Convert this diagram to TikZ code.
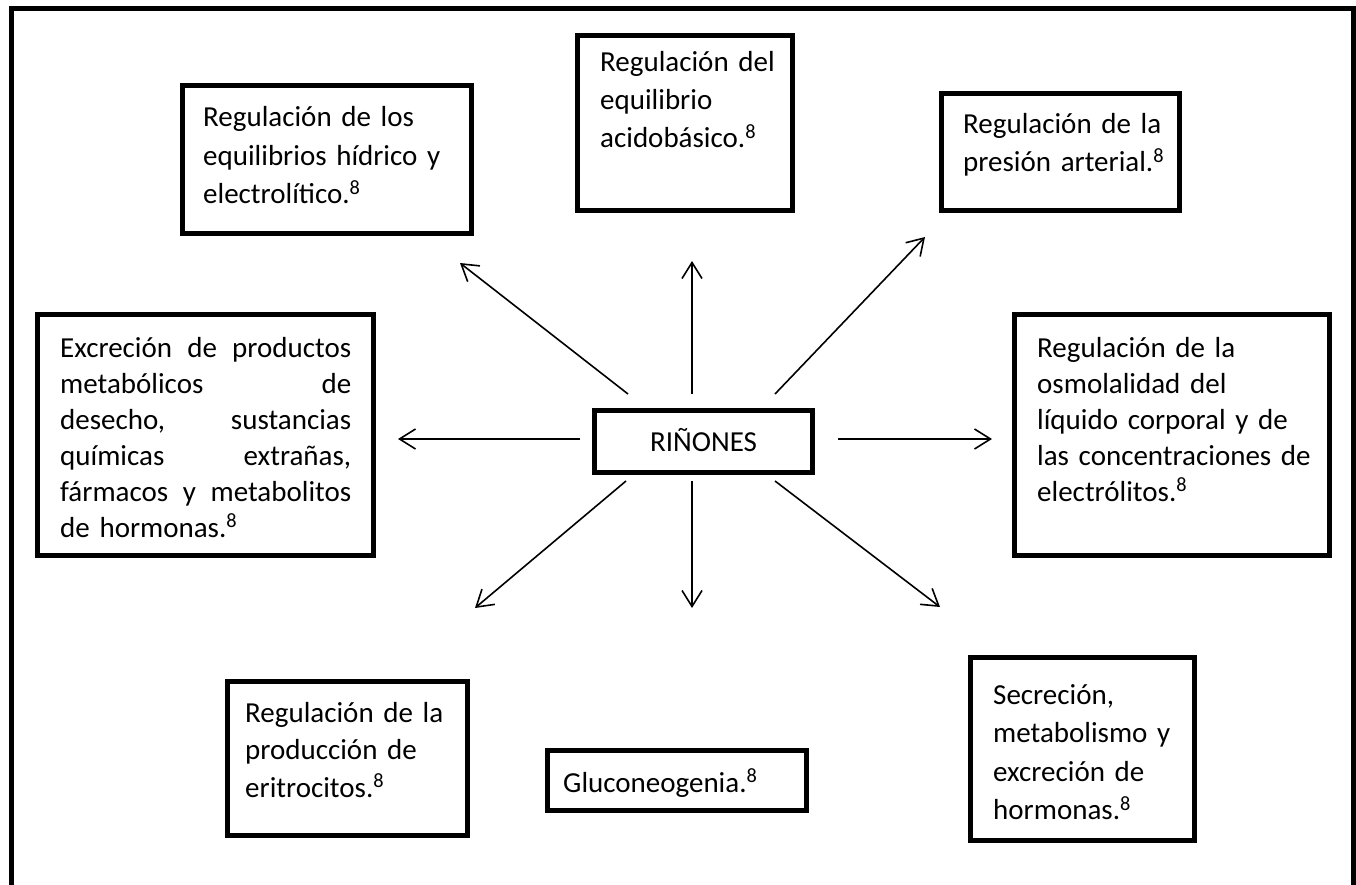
\documentclass[tikz,border=0pt]{standalone}
\usepackage{fontspec}
\setmainfont{Carlito}
\usetikzlibrary{arrows.meta}
\newcommand\bxfont[2]{\fontsize{#1}{#2}\selectfont}
\begin{document}
\begin{tikzpicture}[x=1pt,y=-1pt,
  box/.style={draw, line width=5pt, inner sep=0pt, outer sep=0pt},
  txt/.style={anchor=base west, inner sep=0pt, align=left, font=\bxfont{29}{38}},
  arr/.style={line width=1.6pt, -{Straight Barb[length=16pt,width=20pt]}}]

% page and outer frame (open at the bottom edge)
\useasboundingbox (0,0) rectangle (1356,885);
\fill[white] (0,0) rectangle (1356,885);
\clip (0,0) rectangle (1356,885);
\draw[line width=5pt] (11.5,900) -- (11.5,8.5) -- (1353,8.5) -- (1353,900);

% central box
\node[box, minimum width=218, minimum height=62] (rin) at (703.5,441.5) {};
\node[anchor=base, inner sep=0pt, font=\bxfont{29}{38}] (rint) at (703.5,451) {RIÑONES};

% surrounding boxes
\node[box, minimum width=289, minimum height=148] (b1) at (327,160) {};
\node[txt, text width=270, font=\bxfont{29}{38.5}] (t1) at (203,127)
  {Regulación de los\\equilibrios hídrico y\\electrolítico.\textsuperscript{8}};

\node[box, minimum width=215, minimum height=175] (b2) at (685,123) {};
\node[txt, text width=200] (t2) at (600,72)
  {Regulación del\\equilibrio\\acidobásico.\textsuperscript{8}};

\node[box, minimum width=238, minimum height=117] (b3) at (1060.5,152) {};
\node[txt, text width=220] (t3) at (963,134)
  {Regulación de la\\presión arterial.\textsuperscript{8}};

\node[box, minimum width=336, minimum height=241] (b4) at (205.5,435) {};
\node[txt, text width=291, font=\bxfont{29}{36}] (t4) at (60,357)
  {Excreción\hfill de\hfill productos\\
   metabólicos\hfill de\\
   desecho,\hfill sustancias\\
   químicas\hfill extrañas,\\
   fármacos\hfill y\hfill metabolitos\\
   de hormonas.\textsuperscript{8}};

\node[box, minimum width=315, minimum height=241] (b5) at (1172,435) {};
\node[txt, text width=290, font=\bxfont{29}{36}] (t5) at (1037,357)
  {Regulación de la\\osmolalidad del\\líquido corporal y de\\las concentraciones de\\electrólitos.\textsuperscript{8}};

\node[box, minimum width=240, minimum height=154] (b6) at (347.5,758.5) {};
\node[txt, text width=225, font=\bxfont{29}{37.5}] (t6) at (245,722)
  {Regulación de la\\producción de\\eritrocitos.\textsuperscript{8}};

\node[box, minimum width=259, minimum height=60] (b7) at (676.5,780.5) {};
\node[txt, text width=240] (t7) at (563,792)
  {Gluconeogenia.\textsuperscript{8}};

\node[box, minimum width=224, minimum height=183] (b8) at (1082.5,749) {};
\node[txt, text width=210, font=\bxfont{29}{38.5}] (t8) at (993,704)
  {Secreción,\\metabolismo y\\excreción de\\hormonas.\textsuperscript{8}};

% arrow end points
\coordinate (s1) at (628,394);  \coordinate (e1) at (460,263);
\coordinate (s2) at (692,394);  \coordinate (e2) at (692,261);
\coordinate (s3) at (775,394);  \coordinate (e3) at (925,237);
\coordinate (s4) at (580,439);  \coordinate (e4) at (398,439);
\coordinate (s5) at (838,439);  \coordinate (e5) at (992,439);
\coordinate (s6) at (626,481);  \coordinate (e6) at (475,608);
\coordinate (s7) at (692,481);  \coordinate (e7) at (692,608);
\coordinate (s8) at (775,481);  \coordinate (e8) at (940,607);

\foreach \i in {1,...,8} \draw[arr] (s\i) -- (e\i);
\end{tikzpicture}
\end{document}
